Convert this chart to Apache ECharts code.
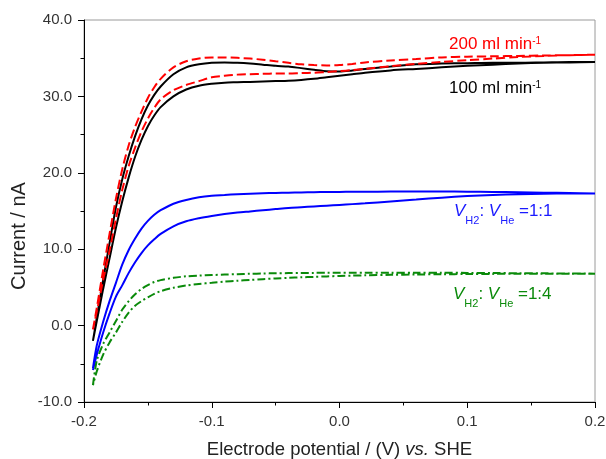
<!DOCTYPE html>
<html>
<head>
<meta charset="utf-8">
<script src="https://cdn.jsdelivr.net/npm/echarts@6/dist/echarts.min.js"></script>
<style>
  html, body { margin: 0; padding: 0; background: #ffffff; }
  #chart { width: 606px; height: 459px; }
</style>
</head>
<body>
<div id="chart"></div>
<script>
// Electrode potential (V vs. SHE) shared by every sweep branch
const potential = [-0.193, -0.19, -0.185, -0.18, -0.175, -0.17, -0.165, -0.16, -0.155, -0.15, -0.145, -0.14,
  -0.13, -0.12, -0.11, -0.10, -0.09, -0.08, -0.07, -0.06, -0.05, -0.04, -0.03, -0.02, -0.01,
  0.00, 0.01, 0.02, 0.04, 0.06, 0.08, 0.10, 0.12, 0.14, 0.16, 0.18, 0.20];

// Current (nA): 100 ml min-1
const flow100Fwd = [-2.0, 1.0, 6.0, 10.8, 15.5, 19.2, 22.2, 24.8, 27.0, 28.8, 30.2, 31.3,
  32.9, 33.8, 34.2, 34.4, 34.45, 34.4, 34.3, 34.15, 34.0, 33.9, 33.7, 33.5, 33.3,
  33.25, 33.4, 33.6, 33.9, 34.2, 34.3, 34.35, 34.4, 34.4, 34.45, 34.5, 34.5];
const flow100Rev = [-2.0, 0.6, 4.8, 8.8, 12.8, 16.3, 19.4, 22.1, 24.3, 26.1, 27.5, 28.6,
  30.0, 30.9, 31.4, 31.65, 31.8, 31.85, 31.9, 31.95, 32.0, 32.05, 32.15, 32.3, 32.5,
  32.7, 32.9, 33.1, 33.4, 33.6, 33.8, 34.0, 34.15, 34.3, 34.4, 34.45, 34.5];

// Current (nA): 200 ml min-1
const flow200Fwd = [-0.5, 2.3, 7.3, 12.0, 16.6, 20.5, 23.6, 26.0, 28.0, 29.8, 31.2, 32.3,
  33.8, 34.6, 34.95, 35.1, 35.1, 35.05, 34.95, 34.8, 34.6, 34.4, 34.2, 34.1, 34.05,
  34.1, 34.25, 34.45, 34.7, 34.9, 35.1, 35.2, 35.25, 35.3, 35.35, 35.4, 35.45];
const flow200Rev = [-0.5, 1.8, 6.0, 9.8, 14.0, 17.8, 20.9, 23.3, 25.4, 27.1, 28.5, 29.6,
  30.8, 31.5, 32.0, 32.5, 32.7, 32.85, 32.9, 32.95, 33.0, 33.0, 33.05, 33.1, 33.2,
  33.3, 33.45, 33.6, 33.95, 34.25, 34.5, 34.75, 34.95, 35.15, 35.3, 35.4, 35.45];

// Current (nA): H2 : He = 1:1
const ratio11Fwd = [-5.6, -2.6, 0.5, 3.2, 5.6, 8.0, 9.9, 11.4, 12.7, 13.7, 14.5, 15.1,
  15.95, 16.45, 16.8, 17.0, 17.1, 17.2, 17.27, 17.32, 17.36, 17.4, 17.43, 17.46, 17.48,
  17.5, 17.51, 17.52, 17.54, 17.55, 17.55, 17.53, 17.5, 17.45, 17.4, 17.35, 17.3];
const ratio11Rev = [-5.8, -3.8, -0.9, 1.6, 3.8, 5.3, 6.9, 8.3, 9.5, 10.5, 11.3, 12.0,
  13.0, 13.65, 14.05, 14.35, 14.6, 14.8, 14.95, 15.1, 15.25, 15.4, 15.5, 15.6, 15.7,
  15.8, 15.9, 16.0, 16.25, 16.5, 16.75, 16.95, 17.1, 17.2, 17.27, 17.3, 17.3];

// Current (nA): H2 : He = 1:4
const ratio14Fwd = [-7.8, -4.6, -2.4, -0.9, 0.6, 2.1, 3.2, 4.1, 4.8, 5.3, 5.7, 5.95,
  6.25, 6.45, 6.55, 6.62, 6.68, 6.73, 6.78, 6.82, 6.85, 6.87, 6.89, 6.9, 6.91,
  6.92, 6.93, 6.93, 6.93, 6.93, 6.92, 6.9, 6.88, 6.86, 6.84, 6.82, 6.8];
const ratio14Rev = [-7.8, -6.0, -3.8, -2.2, -0.9, 0.5, 1.7, 2.6, 3.2, 3.7, 4.15, 4.5,
  4.95, 5.25, 5.45, 5.6, 5.75, 5.87, 5.98, 6.08, 6.17, 6.25, 6.32, 6.38, 6.44,
  6.5, 6.54, 6.58, 6.64, 6.69, 6.72, 6.75, 6.77, 6.79, 6.8, 6.8, 6.8];

const xTicks = { min: -0.2, max: 0.2, step: 0.1 };
const yTicks = { min: -10, max: 40, step: 10 };

// One closed voltammogram: forward sweep, then back along the reverse branch
function loop(fwd, rev) {
  const out = potential.map((e, i) => [e, fwd[i]]);
  for (let i = potential.length - 1; i >= 0; i--) out.push([potential[i], rev[i]]);
  return out;
}

const FONT = '"Liberation Sans", Arial, Helvetica, sans-serif';

function cvSeries(name, fwd, rev, color, type) {
  return {
    name: name,
    type: 'line',
    data: loop(fwd, rev),
    showSymbol: false,
    smooth: 0.3,
    animation: false,
    lineStyle: { color: color, width: 2, type: type },
    emphasis: { disabled: true }
  };
}

const chart = echarts.init(document.getElementById('chart'), null, { renderer: 'canvas' });

const axisCommon = {
  type: 'value',
  axisLine: { show: true, onZero: false, lineStyle: { color: '#000', width: 1 } },
  axisTick: { show: true, inside: false, length: 6, lineStyle: { color: '#000', width: 1 } },
  minorTick: { show: true, splitNumber: 2, length: 3.5, lineStyle: { color: '#000', width: 1 } },
  splitLine: { show: false },
  minorSplitLine: { show: false },
  nameLocation: 'middle'
};

const labelText = { color: '#333', fontSize: 15, fontFamily: FONT };

// Rich-text annotation with a raised exponent
function flowLabel(text, color, left, top) {
  return {
    type: 'text', left: left, top: top, silent: true,
    style: {
      text: '{m|' + text + '}{s|-1}',
      rich: {
        m: { fontSize: 17, fontFamily: FONT, fill: color, lineHeight: 17 },
        s: { fontSize: 10, fontFamily: FONT, fill: color, lineHeight: 14, verticalAlign: 'top' }
      }
    }
  };
}

// Rich-text annotation "V_H2 : V_He = ratio" with italic V and subscripts
function ratioLabel(ratio, color, left, top) {
  return {
    type: 'text', left: left, top: top, silent: true,
    style: {
      text: '{v|V}{b|H2}{n|: }{v|V}{b|He}{n| =' + ratio + '}',
      rich: {
        v: { fontSize: 17, fontFamily: FONT, fontStyle: 'italic', fill: color, lineHeight: 30 },
        n: { fontSize: 17, fontFamily: FONT, fill: color, lineHeight: 30 },
        b: { fontSize: 11, fontFamily: FONT, fill: color, lineHeight: 11, verticalAlign: 'bottom' }
      }
    }
  };
}

chart.setOption({
  backgroundColor: '#ffffff',
  animation: false,
  grid: { left: 84, right: 11, top: 20, bottom: 57, outerBoundsMode: 'none',
    show: true, borderColor: '#9a9a9a', borderWidth: 1 },
  xAxis: Object.assign({}, axisCommon, {
    min: xTicks.min, max: xTicks.max, interval: xTicks.step,
    axisLabel: Object.assign({}, labelText, { margin: 12, formatter: v => v.toFixed(1) }),
    name: 'Electrode potential / (V) {i|vs.} SHE',
    nameGap: 38,
    nameTextStyle: { color: '#222', fontSize: 18.5, fontFamily: FONT,
      rich: { i: { fontStyle: 'italic', fontSize: 18.5, fontFamily: FONT, color: '#222' } } }
  }),
  yAxis: Object.assign({}, axisCommon, {
    min: yTicks.min, max: yTicks.max, interval: yTicks.step,
    axisLabel: Object.assign({}, labelText, { margin: 12, formatter: v => v.toFixed(1) })
  }),
  series: [
    cvSeries('100 ml min-1', flow100Fwd, flow100Rev, '#000000', 'solid'),
    cvSeries('200 ml min-1', flow200Fwd, flow200Rev, '#ff0000', [9, 4]),
    cvSeries('1:1', ratio11Fwd, ratio11Rev, '#0000ff', 'solid'),
    cvSeries('1:4', ratio14Fwd, ratio14Rev, '#0a8a0a', [8, 3, 2, 3])
  ],
  graphic: [
    {
      type: 'text', x: 19, y: 236, rotation: Math.PI / 2, silent: true,
      style: { text: 'Current / nA', fill: '#222', fontSize: 20, fontFamily: FONT,
        align: 'center', verticalAlign: 'middle' }
    },
    flowLabel('200 ml min', '#ff0000', 449, 36),
    flowLabel('100 ml min', '#000000', 449, 80),
    ratioLabel('1:1', '#1a1aff', 454, 203),
    ratioLabel('1:4', '#0a8a0a', 453, 286)
  ]
});
</script>
</body>
</html>
